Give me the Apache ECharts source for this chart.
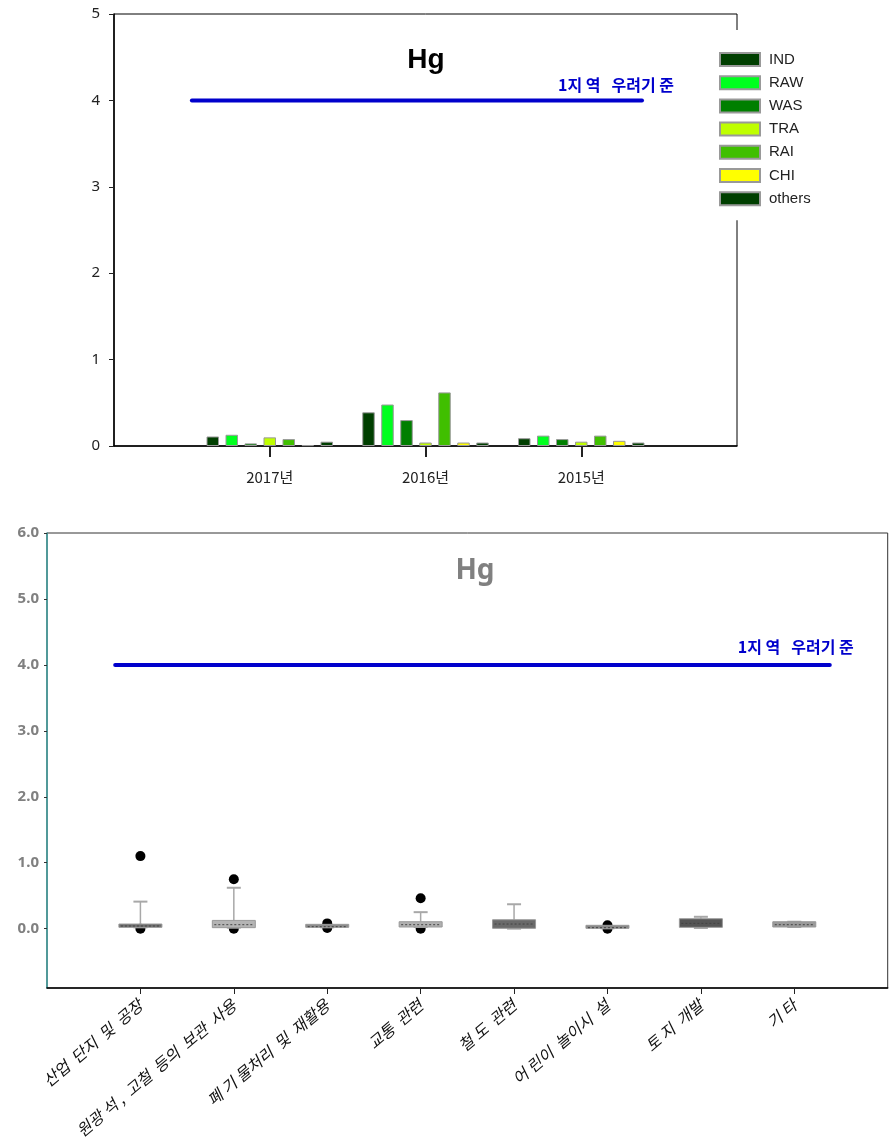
<!DOCTYPE html>
<html>
<head>
<meta charset="utf-8">
<script src="https://cdn.jsdelivr.net/npm/echarts@6/dist/echarts.min.js"></script>
<style>
  html, body { margin: 0; padding: 0; background: #fff; }
  #chart { width: 890px; height: 1147px; }
</style>
</head>
<body>
<div id="chart"></div>
<script>
// 연도별 Hg 막대
var years = ['2017년', '2016년', '2015년'];
var groups = ['IND', 'RAW', 'WAS', 'TRA', 'RAI', 'CHI', 'others'];
var groupColors = ['#003f00', '#00ff1e', '#007f00', '#bfff00', '#40bf00', '#ffff00', '#003f00'];
var IND = [0.11, 0.39, 0.09];
var RAW = [0.13, 0.48, 0.12];
var WAS = [0.03, 0.30, 0.08];
var TRA = [0.10, 0.04, 0.05];
var RAI = [0.08, 0.62, 0.12];
var CHI = [0.01, 0.04, 0.06];
var others = [0.05, 0.04, 0.04];
var groupValues = [IND, RAW, WAS, TRA, RAI, CHI, others];

// 우려기준
var limitLabel = '1지 역   우려기 준';
var limitValue = 4;

// 용도별 박스플롯 [min, Q1, median, Q3, max]
var sites = ['산업  단지  및  공장', '원광 석 ,  고철  등의  보관  사용', '폐 기 물처리  및  재활용', '교통  관련',
  '철 도  관련', '어 린이  놀이시  설', '토 지  개발', '기 타'];
var boxStats = [
  [0.02, 0.02, 0.04, 0.07, 0.41],
  [0.015, 0.015, 0.06, 0.125, 0.62],
  [0.02, 0.02, 0.03, 0.05, 0.05],
  [0.025, 0.025, 0.06, 0.105, 0.25],
  [0.0, 0.005, 0.07, 0.135, 0.37],
  [0.005, 0.005, 0.015, 0.03, 0.03],
  [0.01, 0.02, 0.08, 0.15, 0.18],
  [0.025, 0.025, 0.06, 0.105, 0.105]
];
var boxColors = ['#6e6e6e', '#b4b4b4', '#8c8c8c', '#b0b0b0', '#6a6a6a', '#8a8a8a', '#555555', '#9a9a9a'];
var outliers = [[1.10, 0.0], [0.75, 0.0], [0.08, 0.01], [0.46, 0.0], [], [0.05, 0.0], [], []];

var chart = echarts.init(document.getElementById('chart'));

var topCats = [''].concat(years).concat(['']);
var bottomCats = [''].concat(sites).concat(['']);

var series = [];
for (var g = 0; g < groups.length; g++) {
  series.push({
    name: groups[g],
    type: 'bar',
    xAxisIndex: 0,
    yAxisIndex: 0,
    barWidth: 12.5,
    barGap: '52%',
    itemStyle: { color: groupColors[g], borderColor: '#999', borderWidth: 1 },
    data: ['-'].concat(groupValues[g]).concat(['-'])
  });
}

// 기준선 (상단)
series.push({
  type: 'line',
  xAxisIndex: 1,
  yAxisIndex: 0,
  symbol: 'circle',
  symbolSize: 0,
  silent: true,
  lineStyle: { color: '#0000cc', width: 4, cap: 'round' },
  data: [[0.5, limitValue], {
    value: [3.39, limitValue],
    label: { show: true, position: 'top', formatter: limitLabel, offset: [-26, -2],
      color: '#0000cc', fontWeight: 'bold', fontSize: 16, fontFamily: 'Noto Sans CJK KR' }
  }]
});

var boxData = [];
var outData = [];
for (var i = 0; i < boxStats.length; i++) {
  boxData.push([i + 1].concat(boxStats[i]));
  for (var k = 0; k < outliers[i].length; k++) {
    outData.push([i + 1, outliers[i][k]]);
  }
}

// 박스 + 수염 (수염 끝은 짧은 가로선)
function renderBox(params, api) {
  var x = api.value(0);
  var pMin = api.coord([x, api.value(1)]);
  var pQ1 = api.coord([x, api.value(2)]);
  var pMed = api.coord([x, api.value(3)]);
  var pQ3 = api.coord([x, api.value(4)]);
  var pMax = api.coord([x, api.value(5)]);
  var cx = pQ1[0];
  var bw = 43;
  var cap = 7;
  var col = boxColors[params.dataIndex];
  var wStyle = { stroke: '#a8a8a8', lineWidth: 1.5 };
  var h = Math.max(pQ1[1] - pQ3[1], 3);
  return {
    type: 'group',
    children: [
      { type: 'line', shape: { x1: cx, y1: pQ3[1], x2: cx, y2: pMax[1] }, style: wStyle },
      { type: 'line', shape: { x1: cx - cap, y1: pMax[1], x2: cx + cap, y2: pMax[1] }, style: { stroke: '#a8a8a8', lineWidth: 2 } },
      { type: 'line', shape: { x1: cx, y1: pQ1[1], x2: cx, y2: pMin[1] }, style: wStyle },
      { type: 'line', shape: { x1: cx - cap, y1: pMin[1], x2: cx + cap, y2: pMin[1] }, style: { stroke: '#a8a8a8', lineWidth: 2 } },
      { type: 'rect', shape: { x: cx - bw / 2, y: pQ1[1] - h, width: bw, height: h },
        style: { fill: col, stroke: '#999', lineWidth: 1 } },
      { type: 'line', shape: { x1: cx - bw / 2 + 2, y1: pMed[1], x2: cx + bw / 2 - 2, y2: pMed[1] },
        style: { stroke: '#444', lineWidth: 1, lineDash: [2, 2] } }
    ]
  };
}

series.push({
  type: 'scatter',
  xAxisIndex: 2,
  yAxisIndex: 1,
  symbolSize: 10,
  itemStyle: { color: '#000', opacity: 1 },
  z: 2,
  data: outData
});
series.push({
  type: 'custom',
  xAxisIndex: 2,
  yAxisIndex: 1,
  z: 3,
  renderItem: renderBox,
  encode: { x: 0, y: [1, 2, 3, 4, 5] },
  data: boxData
});

// 기준선 (하단)
series.push({
  type: 'line',
  xAxisIndex: 3,
  yAxisIndex: 1,
  symbol: 'circle',
  symbolSize: 0,
  silent: true,
  lineStyle: { color: '#0000cc', width: 4, cap: 'round' },
  data: [[0.73, limitValue], {
    value: [8.38, limitValue],
    label: { show: true, position: 'top', formatter: limitLabel, offset: [-34, -5],
      color: '#0000cc', fontWeight: 'bold', fontSize: 16, fontFamily: 'Noto Sans CJK KR' }
  }]
});

var option = {
  animation: false,
  backgroundColor: '#fff',
  title: [
    { text: 'Hg', left: 421, top: 41, textAlign: 'center',
      textStyle: { fontSize: 28, fontWeight: 'bold', color: '#000', fontFamily: 'Liberation Sans' } },
    { text: 'Hg', left: 470, top: 552, textAlign: 'center',
      textStyle: { fontSize: 28, fontWeight: 'bold', color: '#808080', fontFamily: 'Noto Sans' } }
  ],
  legend: {
    data: groups,
    orient: 'vertical',
    icon: 'rect',
    left: 709,
    top: 30,
    padding: [22, 50, 14, 10],
    backgroundColor: '#fff',
    itemWidth: 40,
    itemHeight: 13,
    itemGap: 8.2,
    textStyle: { fontSize: 15, color: '#222', fontFamily: 'Liberation Sans', padding: [0, 0, 0, 4] }
  },
  grid: [
    { left: 114, top: 14, width: 623, height: 432, show: true, borderColor: '#000', borderWidth: 1 },
    { left: 47, top: 533, right: -4, height: 455, show: true, borderColor: '#333', borderWidth: 1 }
  ],
  xAxis: [
    {
      type: 'category', gridIndex: 0, data: topCats, boundaryGap: false,
      axisLine: { lineStyle: { color: '#000', width: 1.5 } },
      axisTick: { length: 11, lineStyle: { color: '#222', width: 2 },
        interval: function (idx) { return idx > 0 && idx < topCats.length - 1; } },
      axisLabel: { fontSize: 15, color: '#222', margin: 24, fontFamily: 'Noto Sans CJK KR' }
    },
    { type: 'value', gridIndex: 0, min: 0, max: topCats.length - 1, show: false },
    {
      type: 'category', gridIndex: 1, data: bottomCats, boundaryGap: false,
      axisLine: { onZero: false, lineStyle: { color: '#000', width: 1.5 } },
      axisTick: { length: 6, lineStyle: { color: '#222' },
        interval: function (idx) { return idx > 0 && idx < bottomCats.length - 1; } },
      axisLabel: { fontSize: 16, color: '#111', rotate: 40, margin: 15, fontStyle: 'italic',
        fontFamily: 'Noto Sans CJK KR', interval: 0 }
    },
    { type: 'value', gridIndex: 1, min: 0, max: bottomCats.length - 1, show: false }
  ],
  yAxis: [
    {
      type: 'value', gridIndex: 0, min: 0, max: 5, interval: 1,
      splitLine: { show: false },
      axisLine: { show: true, lineStyle: { color: '#000', width: 1.5 } },
      axisTick: { show: true, length: 5, lineStyle: { color: '#222' } },
      axisLabel: { fontSize: 15, color: '#222', margin: 14, fontFamily: 'Noto Sans' }
    },
    {
      type: 'value', gridIndex: 1, min: -0.9, max: 6, minInterval: 1, maxInterval: 1, splitNumber: 7,
      splitLine: { show: false },
      axisLine: { show: true, lineStyle: { color: '#3a9a9a', width: 1.5 } },
      axisTick: { show: true, length: 3, lineStyle: { color: '#333' } },
      axisLabel: { fontSize: 15, color: '#808080', fontWeight: 'bold', margin: 8, fontFamily: 'Noto Sans',
        showMinLabel: false,
        formatter: function (v) { return v.toFixed(1); } }
    }
  ],
  series: series
};

chart.setOption(option);
</script>
</body>
</html>
